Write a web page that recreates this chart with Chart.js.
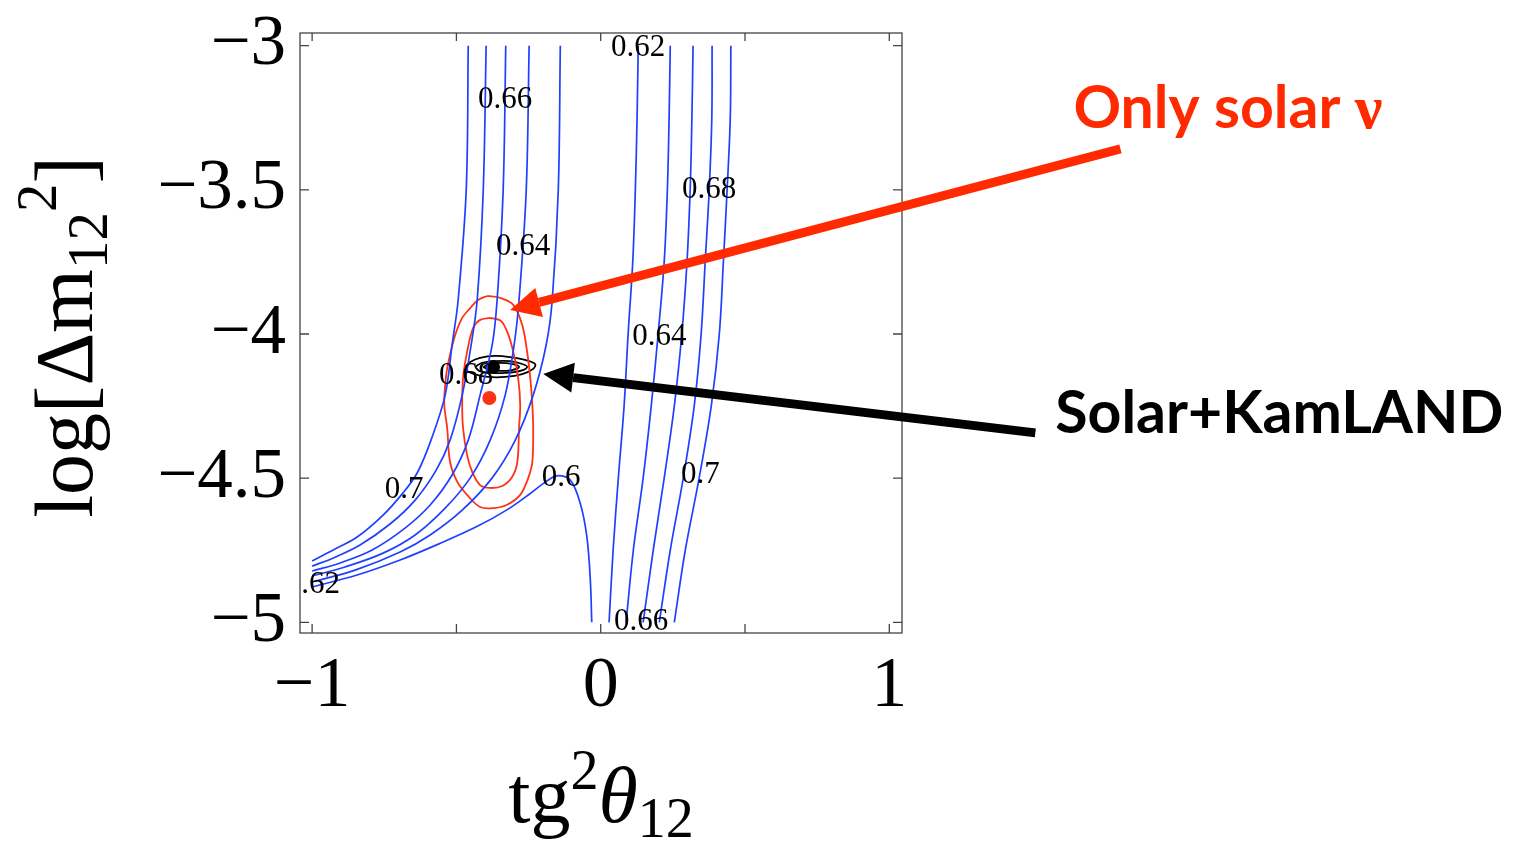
<!DOCTYPE html>
<html>
<head>
<meta charset="utf-8">
<script src="https://cdn.jsdelivr.net/npm/chart.js@4.4.1/dist/chart.umd.min.js"></script>
<style>
  html, body { margin: 0; padding: 0; background: #fff; }
  #wrap { width: 1529px; height: 841px; position: relative; }
</style>
</head>
<body>
<div id="wrap"><canvas id="c"></canvas></div>
<script>
// ===============================
// DATA
// ===============================
const xTickVals = [-1, -0.5, 0, 0.5, 1];
const yTickVals = [-5, -4.5, -4, -3.5, -3];

// right group of contours: x values at common y levels
const rightY    = [-3, -3.25, -3.5, -3.75, -4, -4.25, -4.5, -4.75, -5];
const right062  = [0.130, 0.126, 0.120, 0.111, 0.095, 0.081, 0.061, 0.043, 0.029];
const right064  = [0.241, 0.237, 0.231, 0.220, 0.199, 0.175, 0.147, 0.113, 0.088];
const right066  = [0.320, 0.316, 0.310, 0.299, 0.281, 0.255, 0.220, 0.182, 0.147];
const right068  = [0.386, 0.385, 0.376, 0.362, 0.348, 0.324, 0.286, 0.241, 0.203];
const right070  = [0.451, 0.449, 0.438, 0.425, 0.411, 0.383, 0.341, 0.293, 0.255];

// left group of contours: [x, y] points
const left070 = [[-0.459,-3.0],[-0.466,-3.5],[-0.494,-3.882],[-0.515,-4.038],[-0.539,-4.212],[-0.588,-4.368],[-0.636,-4.482],[-0.685,-4.551],[-0.754,-4.628],[-0.844,-4.704],[-0.927,-4.749],[-1.0,-4.787]];
const left068 = [[-0.397,-3.0],[-0.407,-3.5],[-0.428,-3.882],[-0.449,-4.038],[-0.480,-4.212],[-0.522,-4.368],[-0.570,-4.472],[-0.643,-4.576],[-0.730,-4.659],[-0.834,-4.732],[-0.920,-4.774],[-1.0,-4.805]];
const left066 = [[-0.329,-3.0],[-0.338,-3.5],[-0.359,-3.882],[-0.376,-4.038],[-0.418,-4.212],[-0.459,-4.368],[-0.515,-4.489],[-0.591,-4.593],[-0.678,-4.673],[-0.792,-4.749],[-0.903,-4.794],[-1.0,-4.822]];
const left064 = [[-0.248,-3.0],[-0.258,-3.5],[-0.283,-3.882],[-0.300,-4.038],[-0.331,-4.212],[-0.383,-4.368],[-0.452,-4.499],[-0.539,-4.604],[-0.643,-4.697],[-0.754,-4.760],[-0.886,-4.808],[-1.0,-4.839]];
const left062 = [[-0.140,-3.0],[-0.147,-3.5],[-0.168,-3.882],[-0.189,-4.038],[-0.234,-4.212],[-0.296,-4.368],[-0.376,-4.499],[-0.480,-4.611],[-0.591,-4.697],[-0.695,-4.756],[-0.851,-4.819],[-1.0,-4.860]];
const line060 = [[-1.0,-4.877],[-0.844,-4.836],[-0.695,-4.784],[-0.556,-4.726],[-0.429,-4.668],[-0.325,-4.610],[-0.244,-4.553],[-0.198,-4.518],[-0.152,-4.492],[-0.106,-4.506],[-0.071,-4.587],[-0.048,-4.703],[-0.036,-4.853],[-0.031,-5.0]];

// solar-only allowed regions (red)
const redOuter = [[-0.393,-3.868],[-0.348,-3.875],[-0.303,-3.899],[-0.272,-3.969],[-0.255,-4.062],[-0.244,-4.153],[-0.237,-4.246],[-0.234,-4.326],[-0.237,-4.444],[-0.251,-4.499],[-0.279,-4.558],[-0.326,-4.593],[-0.373,-4.604],[-0.418,-4.600],[-0.463,-4.558],[-0.497,-4.513],[-0.522,-4.444],[-0.532,-4.326],[-0.542,-4.246],[-0.539,-4.177],[-0.532,-4.118],[-0.518,-4.055],[-0.504,-4.003],[-0.480,-3.944],[-0.452,-3.910],[-0.425,-3.882],[-0.393,-3.868]];
const redInner = [[-0.383,-3.944],[-0.345,-3.955],[-0.320,-4.003],[-0.303,-4.062],[-0.286,-4.153],[-0.279,-4.246],[-0.283,-4.326],[-0.289,-4.444],[-0.307,-4.496],[-0.341,-4.527],[-0.383,-4.534],[-0.418,-4.524],[-0.445,-4.479],[-0.463,-4.420],[-0.477,-4.326],[-0.480,-4.246],[-0.477,-4.153],[-0.463,-4.062],[-0.442,-3.979],[-0.418,-3.951],[-0.383,-3.944]];

// solar + KamLAND regions (black)
const blackOuter = [[-0.470,-4.114],[-0.452,-4.097],[-0.418,-4.083],[-0.366,-4.076],[-0.314,-4.080],[-0.262,-4.090],[-0.227,-4.104],[-0.234,-4.121],[-0.272,-4.139],[-0.331,-4.149],[-0.390,-4.149],[-0.438,-4.139],[-0.463,-4.128],[-0.470,-4.114]];
const blackMid   = [[-0.435,-4.114],[-0.411,-4.100],[-0.366,-4.094],[-0.314,-4.094],[-0.272,-4.104],[-0.255,-4.114],[-0.279,-4.128],[-0.331,-4.135],[-0.383,-4.135],[-0.421,-4.128],[-0.435,-4.114]];
const blackInner = [[-0.407,-4.114],[-0.383,-4.104],[-0.348,-4.100],[-0.307,-4.104],[-0.283,-4.114],[-0.307,-4.125],[-0.348,-4.128],[-0.386,-4.125],[-0.407,-4.114]];

// best fit points
const bestFitBlack = [-0.373, -4.114];
const bestFitRed   = [-0.386, -4.222];

// contour level labels: text, x, y
const contourLabels = [
  ["0.66", -0.331, -3.188], ["0.64", -0.269, -3.698], ["0.68", -0.466, -4.146],
  ["0.7", -0.681, -4.541], ["0.62", -0.997, -4.870], ["0.6", -0.137, -4.499],
  ["0.62", 0.130, -3.008], ["0.68", 0.376, -3.500], ["0.64", 0.203, -4.010],
  ["0.7", 0.345, -4.489], ["0.66", 0.140, -4.999]
];

// annotations: text anchor (left, baseline) and arrows (tail -> tip), data units
const noteSolar = { text: "Only solar ", greek: "ν", x: 1.638, y: -3.285, color: "#ff2a00" };
const noteKam   = { text: "Solar+KamLAND", greek: "", x: 1.575, y: -4.343, color: "#000000" };
const arrowSolar = { from: [1.801, -3.358], to: [-0.314, -3.917], color: "#ff2a00" };
const arrowKam   = { from: [1.506, -4.343], to: [-0.199, -4.139], color: "#000000" };

// ===============================
// DATASETS
// ===============================
const BLUE = "#2040ff";
const RED = "#ff3214";

const toPts = arr => arr.map(p => ({ x: p[0], y: p[1] }));
const colPts = xs => xs.map((v, i) => ({ x: v, y: rightY[i] }));

function curve(data, color, width) {
  return {
    type: "line",
    data,
    borderColor: color,
    borderWidth: width || 1.7,
    pointRadius: 0,
    tension: 0.35,
    fill: false
  };
}

const datasets = [
  curve(toPts(left070), BLUE), curve(toPts(left068), BLUE), curve(toPts(left066), BLUE),
  curve(toPts(left064), BLUE), curve(toPts(left062), BLUE), curve(toPts(line060), BLUE),
  curve(colPts(right062), BLUE), curve(colPts(right064), BLUE), curve(colPts(right066), BLUE),
  curve(colPts(right068), BLUE), curve(colPts(right070), BLUE),
  curve(toPts(redOuter), RED, 1.8), curve(toPts(redInner), RED, 1.8),
  curve(toPts(blackOuter), "#000", 1.8), curve(toPts(blackMid), "#000", 1.8), curve(toPts(blackInner), "#000", 1.8),
  { type: "scatter", data: [{ x: bestFitRed[0], y: bestFitRed[1] }], pointRadius: 7, pointBackgroundColor: RED, pointBorderWidth: 0 },
  { type: "scatter", data: [{ x: bestFitBlack[0], y: bestFitBlack[1] }], pointRadius: 7, pointBackgroundColor: "#000", pointBorderWidth: 0 }
];

// ===============================
// DRAWING HELPERS
// ===============================
function richText(ctx, parts, cx, baseY) {
  // parts: {t, size, dy, italic}
  let w = 0;
  parts.forEach(p => {
    ctx.font = (p.italic ? "italic " : "") + p.size + 'px "Liberation Serif"';
    p.w = ctx.measureText(p.t).width;
    w += p.w;
  });
  let xx = cx - w / 2;
  ctx.textAlign = "left";
  ctx.textBaseline = "alphabetic";
  parts.forEach(p => {
    ctx.font = (p.italic ? "italic " : "") + p.size + 'px "Liberation Serif"';
    ctx.fillText(p.t, xx, baseY + (p.dy || 0));
    xx += p.w;
  });
}

function drawArrow(ctx, x1, y1, x2, y2, color) {
  const ang = Math.atan2(y2 - y1, x2 - x1);
  const headLen = 30, headHalf = 15;
  const bx = x2 - headLen * Math.cos(ang), by = y2 - headLen * Math.sin(ang);
  ctx.save();
  ctx.strokeStyle = color;
  ctx.fillStyle = color;
  ctx.lineWidth = 9;
  ctx.beginPath();
  ctx.moveTo(x1, y1);
  ctx.lineTo(bx, by);
  ctx.stroke();
  ctx.beginPath();
  ctx.moveTo(x2, y2);
  ctx.lineTo(bx + headHalf * Math.sin(ang), by - headHalf * Math.cos(ang));
  ctx.lineTo(bx - headHalf * Math.sin(ang), by + headHalf * Math.cos(ang));
  ctx.closePath();
  ctx.fill();
  ctx.restore();
}

const overlay = {
  id: "overlay",
  afterDatasetsDraw(chart) {
    const { ctx, chartArea: a, scales: { x, y } } = chart;

    // contour labels (clipped to the frame)
    ctx.save();
    ctx.beginPath();
    ctx.rect(a.left, a.top, a.right - a.left, a.bottom - a.top);
    ctx.clip();
    ctx.font = '31px "Liberation Serif"';
    ctx.fillStyle = "#000";
    ctx.textAlign = "center";
    ctx.textBaseline = "middle";
    contourLabels.forEach(([t, vx, vy]) => ctx.fillText(t, x.getPixelForValue(vx), y.getPixelForValue(vy)));
    ctx.restore();

    // frame + inward ticks
    ctx.save();
    ctx.strokeStyle = "#444";
    ctx.lineWidth = 1.3;
    ctx.strokeRect(a.left, a.top, a.right - a.left, a.bottom - a.top);
    ctx.beginPath();
    xTickVals.forEach(v => {
      const px = x.getPixelForValue(v);
      ctx.moveTo(px, a.bottom); ctx.lineTo(px, a.bottom - 9);
      ctx.moveTo(px, a.top); ctx.lineTo(px, a.top + 8);
    });
    yTickVals.forEach(v => {
      const py = y.getPixelForValue(v);
      ctx.moveTo(a.left, py); ctx.lineTo(a.left + 9, py);
      ctx.moveTo(a.right, py); ctx.lineTo(a.right - 9, py);
    });
    ctx.stroke();
    ctx.restore();

    // axis titles
    ctx.save();
    ctx.fillStyle = "#000";
    richText(ctx, [
      { t: "tg", size: 80 },
      { t: "2", size: 56, dy: -33 },
      { t: "θ", size: 80, italic: true },
      { t: "12", size: 56, dy: 15 }
    ], (a.left + a.right) / 2, 822);
    ctx.translate(92, 337);
    ctx.rotate(-Math.PI / 2);
    richText(ctx, [
      { t: "log[Δm", size: 82 },
      { t: "12", size: 57, dy: 15 },
      { t: "2", size: 57, dy: -36 },
      { t: "]", size: 82 }
    ], 0, 0);
    ctx.restore();

    // arrows and notes
    [arrowSolar, arrowKam].forEach(ar => {
      drawArrow(ctx, x.getPixelForValue(ar.from[0]), y.getPixelForValue(ar.from[1]),
        x.getPixelForValue(ar.to[0]), y.getPixelForValue(ar.to[1]), ar.color);
    });
    ctx.save();
    ctx.textAlign = "left";
    ctx.textBaseline = "alphabetic";
    [noteSolar, noteKam].forEach(n => {
      const px = x.getPixelForValue(n.x), py = y.getPixelForValue(n.y);
      ctx.fillStyle = n.color;
      ctx.font = 'bold 59px Lato, "Open Sans", sans-serif';
      ctx.fillText(n.text, px, py);
      if (n.greek) {
        const w = ctx.measureText(n.text).width;
        ctx.font = 'bold 62px "Liberation Serif"';
        ctx.fillText(n.greek, px + w, py);
      }
    });
    ctx.restore();
  }
};

const minus = v => (v < 0 ? "\u2212" + Math.abs(v) : String(v));

new Chart(document.getElementById("c"), {
  type: "line",
  data: { datasets },
  options: {
    responsive: true,
    maintainAspectRatio: false,
    animation: false,
    layout: { padding: { left: 0, top: 33, right: 627, bottom: 0 } },
    plugins: { legend: { display: false }, tooltip: { enabled: false } },
    scales: {
      x: {
        type: "linear",
        min: -1.042,
        max: 1.044,
        grid: { display: false },
        border: { display: false },
        afterBuildTicks: s => { s.ticks = xTickVals.map(v => ({ value: v })); },
        afterFit: s => { s.height = 208; s.paddingLeft = 0; s.paddingRight = 0; },
        ticks: {
          autoSkip: false,
          maxRotation: 0,
          padding: 3,
          color: "#000",
          font: { family: "Liberation Serif", size: 72 },
          callback: v => (Number.isInteger(v) ? minus(v) : "")
        }
      },
      y: {
        type: "linear",
        min: -5.037,
        max: -2.956,
        grid: { display: false },
        border: { display: false },
        afterBuildTicks: s => { s.ticks = yTickVals.map(v => ({ value: v })); },
        afterFit: s => { s.width = 300; s.paddingTop = 0; s.paddingBottom = 0; },
        ticks: {
          autoSkip: false,
          padding: 6,
          color: "#000",
          font: { family: "Liberation Serif", size: 71 },
          callback: v => minus(v)
        }
      }
    }
  },
  plugins: [overlay]
});
</script>
</body>
</html>
